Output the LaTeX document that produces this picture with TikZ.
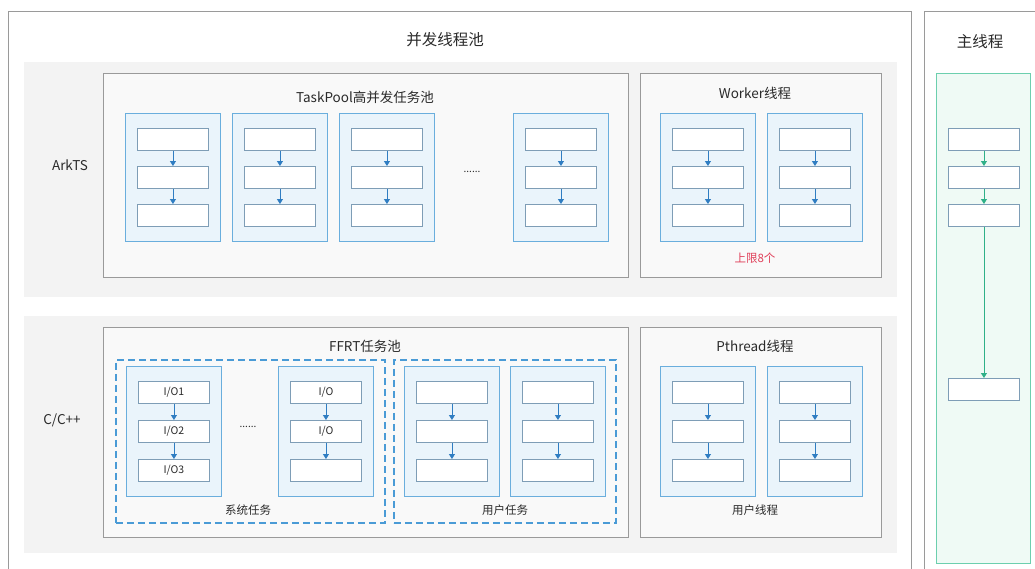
\documentclass[tikz,border=0pt]{standalone}
\usepackage{fontspec}
\setmainfont{Noto Sans CJK SC}
\usetikzlibrary{arrows.meta}

\definecolor{framegray}{HTML}{9A9A9A}
\definecolor{bandfill}{HTML}{F3F3F3}
\definecolor{boxfill}{HTML}{F9F9F9}
\definecolor{laneblue}{HTML}{6AAEDD}
\definecolor{lanefill}{HTML}{EAF4FB}
\definecolor{taskedge}{HTML}{7E9DB6}
\definecolor{flowblue}{HTML}{2F7DC2}
\definecolor{groupblue}{HTML}{4A9BD6}
\definecolor{lanegreen}{HTML}{6CCFAE}
\definecolor{greenfill}{HTML}{EFFAF5}
\definecolor{flowgreen}{HTML}{2FB088}
\definecolor{txt}{HTML}{2A2A2A}
\definecolor{limitred}{HTML}{E0405A}

% one task column: name, left, top, height, pitch, three labels
\newcommand\taskcol[8]{%
  \node[lane, minimum height=#4pt, anchor=north west] (#1) at (#2,#3) {};
  \pgfmathsetmacro\boxoff{(#4-2*#5-22)/2}
  \node[task, anchor=north west] (#1a) at ({#2+12},{#3+\boxoff}) {#6};
  \node[task, anchor=north west] (#1b) at ({#2+12},{#3+\boxoff+#5}) {#7};
  \node[task, anchor=north west] (#1c) at ({#2+12},{#3+\boxoff+2*#5}) {#8};
  \draw[flow] (#1a) -- (#1b);
  \draw[flow] (#1b) -- (#1c);
}

\begin{document}
\begin{tikzpicture}[x=1pt,y=-1pt,
  frame/.style={draw=framegray, line width=1pt, fill=white, inner sep=0pt},
  band/.style={fill=bandfill, draw=none, inner sep=0pt},
  pool/.style={draw=framegray, line width=1pt, fill=boxfill, inner sep=0pt},
  lane/.style={draw=laneblue, line width=1.2pt, fill=lanefill, inner sep=0pt, minimum width=95pt},
  task/.style={draw=taskedge, line width=0.9pt, fill=white, inner sep=0pt,
    minimum width=71pt, minimum height=22pt, text=txt, font=\fontsize{10.5}{12}\selectfont},
  flow/.style={draw=flowblue, line width=0.9pt, -{Triangle[width=6pt,length=5pt]}},
  gflow/.style={draw=flowgreen, line width=0.9pt, -{Triangle[width=6pt,length=5pt]}},
  group/.style={draw=groupblue, line width=1.5pt, dash pattern=on 7pt off 4pt, inner sep=0pt},
  title/.style={text=txt, font=\fontsize{15.5}{18}\selectfont},
  subtitle/.style={text=txt, font=\fontsize{13.5}{16}\selectfont},
  caption/.style={text=txt, font=\fontsize{11.5}{13}\selectfont},
  dots/.style={text=txt, font=\fontsize{10}{12}\selectfont}]
\useasboundingbox (0,0) rectangle (1035,568);
\clip (0,0) rectangle (1035,568);
\fill[white] (0,0) rectangle (1035,568);

% concurrent thread pool
\node[frame, minimum width=903pt, minimum height=580pt, anchor=north west] (poolframe) at (8,11) {};
\node[title] (pooltitle) at (445,40) {并发线程池};

% ArkTS band
\node[band, minimum width=873pt, minimum height=235pt, anchor=north west] (arkband) at (24,62) {};
\node[subtitle] (arklabel) at (70,165) {ArkTS};

\node[pool, minimum width=525pt, minimum height=204pt, anchor=north west] (taskpool) at (103,73) {};
\node[subtitle] (tptitle) at (365,97) {TaskPool高并发任务池};
\taskcol{tpa}{125}{113}{128}{38}{}{}{}
\taskcol{tpb}{232}{113}{128}{38}{}{}{}
\taskcol{tpc}{339}{113}{128}{38}{}{}{}
\taskcol{tpd}{513}{113}{128}{38}{}{}{}
\node[dots] (tpdots) at (472,172) {......};

\node[pool, minimum width=241pt, minimum height=204pt, anchor=north west] (worker) at (640,73) {};
\node[subtitle] (wktitle) at (755,93) {Worker线程};
\taskcol{wka}{660}{113}{128}{38}{}{}{}
\taskcol{wkb}{767}{113}{128}{38}{}{}{}
\node[caption, text=limitred] (wklimit) at (755,258) {上限8个};

% C/C++ band
\node[band, minimum width=873pt, minimum height=237pt, anchor=north west] (cband) at (24,316) {};
\node[subtitle] (clabel) at (62,420) {C/C++};

\node[pool, minimum width=525pt, minimum height=210pt, anchor=north west] (ffrt) at (103,327) {};
\node[subtitle] (fftitle) at (365,346) {FFRT任务池};
\node[group, minimum width=269pt, minimum height=163pt, anchor=north west] (sysgroup) at (115,359) {};
\node[group, minimum width=222pt, minimum height=163pt, anchor=north west] (usrgroup) at (393,359) {};
\taskcol{sya}{126}{366}{130}{39}{I/O1}{I/O2}{I/O3}
\taskcol{syb}{278}{366}{130}{39}{I/O}{I/O}{}
\node[dots] (sydots) at (248,427) {......};
\node[caption] (sylabel) at (248,510) {系统任务};
\taskcol{usa}{404}{366}{130}{39}{}{}{}
\taskcol{usb}{510}{366}{130}{39}{}{}{}
\node[caption] (uslabel) at (505,510) {用户任务};

\node[pool, minimum width=241pt, minimum height=210pt, anchor=north west] (pthread) at (640,327) {};
\node[subtitle] (pttitle) at (755,346) {Pthread线程};
\taskcol{pta}{660}{366}{130}{39}{}{}{}
\taskcol{ptb}{767}{366}{130}{39}{}{}{}
\node[caption] (ptlabel) at (755,510) {用户线程};

% main thread
\node[frame, minimum width=130pt, minimum height=580pt, anchor=north west] (mainframe) at (924,11) {};
\node[title] (maintitle) at (980,42) {主线程};
\node[draw=lanegreen, line width=1.2pt, fill=greenfill, inner sep=0pt,
  minimum width=94pt, minimum height=490pt, anchor=north west] (mainlane) at (936,73) {};
\node[task, anchor=north west] (ma) at (948,128) {};
\node[task, anchor=north west] (mb) at (948,166) {};
\node[task, anchor=north west] (mc) at (948,204) {};
\node[task, anchor=north west] (md) at (948,378) {};
\draw[gflow] (ma) -- (mb);
\draw[gflow] (mb) -- (mc);
\draw[gflow] (mc) -- (md);
\end{tikzpicture}
\end{document}
